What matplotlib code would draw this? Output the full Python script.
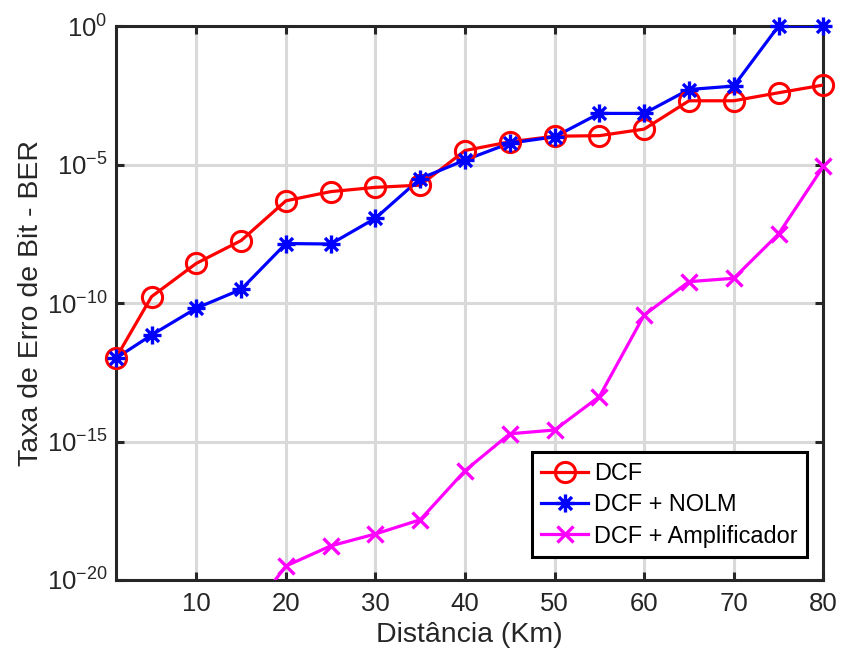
import numpy as np
import matplotlib
matplotlib.use("Agg")
import matplotlib.pyplot as plt
from matplotlib.path import Path
from matplotlib.lines import Line2D
from matplotlib.ticker import FixedLocator, NullLocator

plt.rcParams['font.family'] = ['Liberation Sans', 'DejaVu Sans']
plt.rcParams['mathtext.default'] = 'regular'

# Distance (km) and bit error rates
distancia = [1, 5, 10, 15, 20, 25, 30, 35, 40, 45, 50, 55, 60, 65, 70, 75, 80]
ber_dcf = [1.0e-12, 1.7e-10, 2.7e-9, 1.8e-8, 4.9e-7, 1.05e-6, 1.5e-6, 1.8e-6,
           3.2e-5, 6.6e-5, 1.05e-4, 1.1e-4, 1.9e-4, 2.0e-3, 2.0e-3, 3.9e-3, 7.4e-3]
ber_nolm = [1.0e-12, 7.0e-12, 6.5e-11, 3.1e-10, 1.4e-8, 1.35e-8, 1.15e-7, 3.1e-6,
            1.45e-5, 5.9e-5, 1.0e-4, 7.0e-4, 7.0e-4, 5.1e-3, 6.8e-3, 1.0, 1.0]
distancia_amp = [15, 20, 25, 30, 35, 40, 45, 50, 55, 60, 65, 70, 75, 80]
ber_amp = [2.5e-22, 3.2e-20, 1.7e-19, 4.6e-19, 1.5e-18, 8.9e-17, 1.9e-15, 2.6e-15,
           4.2e-14, 3.7e-11, 5.9e-10, 7.8e-10, 3.1e-8, 8.5e-6]

labels = ['DCF', 'DCF + NOLM', 'DCF + Amplificador']
xticks = [10, 20, 30, 40, 50, 60, 70, 80]
yticks = [1e-20, 1e-15, 1e-10, 1e-5, 1e0]

# eight-armed asterisk marker
r = 1.0
d = 0.72
ast = Path([(-r, 0), (r, 0), (0, -r), (0, r), (-d, -d), (d, d), (-d, d), (d, -d)],
           [Path.MOVETO, Path.LINETO] * 4)

fig = plt.figure(figsize=(8.41, 6.57), dpi=100)
ax = fig.add_axes([0.1376, 0.1172, 0.8414, 0.8432])

xlim = (1, 80)
ylim = (1e-20, 1e0)

series = [
    (distancia, ber_dcf, '#FF0000', 'o', dict(ms=14.5, mew=2.2, mfc='none')),
    (distancia, ber_nolm, '#0000FF', ast, dict(ms=13, mew=2.4, mfc='none')),
    (distancia_amp, ber_amp, '#FF00FF', 'x', dict(ms=12, mew=2.4)),
]

handles = []
for (xs, ys, col, mk, mkw), lab in zip(series, labels):
    xs = np.asarray(xs, float)
    ys = np.asarray(ys, float)
    ax.plot(xs, ys, '-', color=col, lw=2.3, zorder=3)
    inside = (ys >= ylim[0]) & (ys <= ylim[1]) & (xs >= xlim[0]) & (xs <= xlim[1])
    ax.plot(xs[inside], ys[inside], linestyle='none', marker=mk, color=col,
            mec=col, clip_on=False, zorder=4, **mkw)
    handles.append(Line2D([], [], color=col, lw=2.3, marker=mk, mec=col, **mkw))

ax.set_yscale('log')
ax.set_xlim(*xlim)
ax.set_ylim(*ylim)
ax.xaxis.set_major_locator(FixedLocator(xticks))
ax.yaxis.set_major_locator(FixedLocator(yticks))
ax.yaxis.set_minor_locator(NullLocator())
ax.xaxis.set_minor_locator(NullLocator())

ax.set_axisbelow(True)
ax.grid(True, which='major', color='#d9d9d9', lw=2.2)

for s in ax.spines.values():
    s.set_linewidth(2.2)
    s.set_color('#262626')

ax.tick_params(axis='both', which='major', direction='in', length=6, width=2.2,
               color='#262626', labelsize=18.5, labelcolor='#262626',
               top=True, right=True)
ax.tick_params(axis='x', pad=9)
ax.tick_params(axis='y', pad=6)

ax.set_xlabel('Distância (Km)', fontsize=20.5, color='#262626', labelpad=4)
ax.set_ylabel('Taxa de Erro de Bit - BER', fontsize=20.5, color='#262626', labelpad=2)

leg = ax.legend(handles, labels, loc='lower right', bbox_to_anchor=(0.977, 0.0415),
                borderaxespad=0, fontsize=16.9, handlelength=2.0, handletextpad=0.25,
                borderpad=0.4, labelspacing=0.36, fancybox=False, framealpha=1,
                edgecolor='#000000')
leg.get_frame().set_linewidth(2.2)
for t in leg.get_texts():
    t.set_color('#000000')

fig.savefig('out.png', dpi=100, facecolor='white')
